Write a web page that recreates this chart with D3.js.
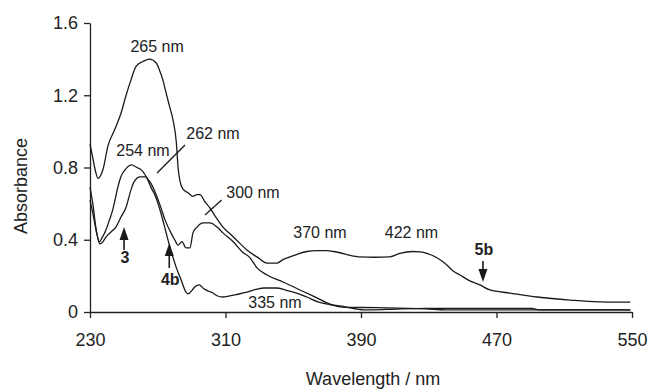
<!DOCTYPE html>
<html>
<head>
<meta charset="utf-8">
<script src="https://cdn.jsdelivr.net/npm/d3@7"></script>
<style>
  body { margin: 0; background: #fff; }
  svg { display: block; font-family: "Liberation Sans", Arial, sans-serif; }
  .axis path, .axis line { stroke: #222; stroke-width: 1.3; }
  .axis text { font-size: 18px; fill: #222; }
  .curve { fill: none; stroke: #1a1a1a; stroke-width: 1.3; stroke-linejoin: round; }
  .note { font-size: 16px; fill: #222; }
  .bold { font-size: 16px; font-weight: bold; fill: #222; }
</style>
</head>
<body>
<div id="chart"></div>
<script>
// spectrum of 5b (peaks 265, 370, 422 nm)
var wl5b = [230, 231.5, 233, 234.7, 236.5, 237.7, 240.6, 244.6, 248.3, 251, 254.2, 257.2, 261.3, 265.2, 269, 271, 273, 275, 277, 279, 281, 282, 283, 284.9, 287.9, 290.8, 293, 294.9, 297.9, 300.8, 304, 308.5, 313, 318.5, 323, 328.6, 334.5, 340.4, 344, 348.1, 353, 358.1, 364, 369.9, 374, 377.6, 383, 389.4, 398, 407.1, 413, 420.7, 425, 428.9, 434.8, 440.7, 444, 448.4, 454.3, 460.2, 466.1, 477.9, 494, 513.4, 535, 549];
var abs5b = [0.93, 0.86, 0.79, 0.74, 0.76, 0.79, 0.92, 1.01, 1.10, 1.19, 1.285, 1.36, 1.387, 1.40, 1.38, 1.34, 1.285, 1.21, 1.137, 1.064, 0.936, 0.80, 0.73, 0.68, 0.66, 0.64, 0.65, 0.65, 0.61, 0.576, 0.53, 0.47, 0.43, 0.38, 0.34, 0.305, 0.271, 0.271, 0.29, 0.305, 0.322, 0.335, 0.34, 0.34, 0.335, 0.328, 0.315, 0.305, 0.303, 0.305, 0.325, 0.335, 0.333, 0.325, 0.30, 0.26, 0.23, 0.205, 0.172, 0.15, 0.122, 0.105, 0.083, 0.066, 0.055, 0.055];

// spectrum of 4b (peaks 254, 335 nm)
var wl4b = [230, 231.8, 233.5, 235.5, 237.1, 239.4, 241.5, 243.4, 245, 246.4, 248.3, 250.7, 252.5, 254.4, 257.7, 260.3, 262.5, 264.2, 266, 268.2, 272.1, 274.9, 277.8, 280.8, 283.7, 286.7, 287.9, 290.2, 292, 294.5, 297, 300, 302.6, 305, 308.5, 312, 316, 322.7, 328, 333, 340, 346, 352, 358, 365, 372, 380, 400, 428, 440, 549];
var abs4b = [0.69, 0.59, 0.465, 0.388, 0.41, 0.454, 0.51, 0.565, 0.63, 0.69, 0.75, 0.787, 0.805, 0.814, 0.80, 0.787, 0.76, 0.73, 0.69, 0.65, 0.54, 0.44, 0.34, 0.25, 0.18, 0.11, 0.10, 0.12, 0.14, 0.15, 0.13, 0.115, 0.105, 0.09, 0.083, 0.088, 0.096, 0.11, 0.125, 0.133, 0.133, 0.12, 0.105, 0.083, 0.055, 0.04, 0.026, 0.024, 0.018, 0.012, 0.012];

// spectrum of 3 (peaks 262, 300 nm)
var wl3 = [230, 231.8, 234.1, 235.9, 237.7, 239.4, 242.4, 245.3, 248.3, 251.3, 254.2, 256, 259.5, 262.5, 265.4, 268.4, 271.3, 274.3, 277.8, 280, 282, 284.3, 286.7, 289, 290.8, 293.2, 296.7, 300.8, 305, 308.5, 314.4, 320.3, 324.5, 328.6, 334.5, 343.9, 354, 364, 371.7, 380, 392, 405, 428, 491, 495, 549];
var abs3 = [0.62, 0.54, 0.43, 0.377, 0.39, 0.415, 0.443, 0.47, 0.526, 0.58, 0.676, 0.72, 0.748, 0.748, 0.72, 0.665, 0.593, 0.51, 0.438, 0.40, 0.37, 0.39, 0.355, 0.355, 0.438, 0.47, 0.493, 0.493, 0.47, 0.438, 0.39, 0.33, 0.30, 0.244, 0.205, 0.166, 0.122, 0.078, 0.044, 0.03, 0.012, 0.014, 0.02, 0.02, 0.012, 0.012];

var xTicks = [230, 310, 390, 470, 550];
var yTicks = [0, 0.4, 0.8, 1.2, 1.6];

// peak labels: [text, wavelength, absorbance]
var peakLabels = [
  ["265 nm", 269.6, 1.44],
  ["254 nm", 261.3, 0.864],
  ["262 nm", 302.6, 0.958],
  ["300 nm", 326.2, 0.632],
  ["370 nm", 365.8, 0.41],
  ["422 nm", 419.8, 0.41],
  ["335 nm", 339.2, 0.022]
];
// leader lines [x1, y1, x2, y2] in data units
var leaders = [
  [269.6, 0.77, 286.1, 0.925],
  [297.9, 0.537, 307.7, 0.62]
];
// compound arrows: [label, wavelength, tail, tip, label baseline]
var arrows = [
  ["3", 250.1, 0.343, 0.47, 0.27],
  ["4b", 276.8, 0.244, 0.382, 0.15],
  ["5b", 462, 0.283, 0.166, 0.316]
];

var margin = { top: 23, right: 20, bottom: 78, left: 90 },
  width = 652 - margin.left - margin.right,
  height = 390 - margin.top - margin.bottom;

var svg = d3.select("#chart").append("svg")
  .attr("width", 652)
  .attr("height", 390);

var g = svg.append("g")
  .attr("transform", "translate(" + margin.left + "," + margin.top + ")");

var x = d3.scaleLinear().domain([230, 550]).range([0, width]);
var y = d3.scaleLinear().domain([0, 1.6]).range([height, 0]);

// axes
g.append("g")
  .attr("class", "axis")
  .attr("transform", "translate(0," + height + ")")
  .call(d3.axisBottom(x).tickValues(xTicks).tickSize(6).tickSizeOuter(0).tickPadding(15).tickFormat(d3.format("d")));

g.append("g")
  .attr("class", "axis")
  .call(d3.axisLeft(y).tickValues(yTicks).tickSize(6).tickSizeOuter(0).tickPadding(6)
    .tickFormat(function (d) { return d === 0 ? "0" : d.toFixed(1); }));

// axis titles
svg.append("text")
  .attr("x", 373).attr("y", 385)
  .attr("text-anchor", "middle")
  .style("font-size", "18px").style("fill", "#222")
  .text("Wavelength / nm");

svg.append("text")
  .attr("transform", "translate(27,186) rotate(-90)")
  .attr("text-anchor", "middle")
  .style("font-size", "18px").style("fill", "#222")
  .text("Absorbance");

// curves
var line = d3.line()
  .x(function (d) { return x(d[0]); })
  .y(function (d) { return y(d[1]); })
  .curve(d3.curveMonotoneX);

[[wl5b, abs5b], [wl4b, abs4b], [wl3, abs3]].forEach(function (s) {
  g.append("path")
    .attr("class", "curve")
    .attr("d", line(d3.zip(s[0], s[1])));
});

// peak labels
g.selectAll(".note")
  .data(peakLabels)
  .enter().append("text")
  .attr("class", "note")
  .attr("x", function (d) { return x(d[1]); })
  .attr("y", function (d) { return y(d[2]); })
  .attr("text-anchor", "middle")
  .text(function (d) { return d[0]; });

g.selectAll(".leader")
  .data(leaders)
  .enter().append("line")
  .attr("x1", function (d) { return x(d[0]); })
  .attr("y1", function (d) { return y(d[1]); })
  .attr("x2", function (d) { return x(d[2]); })
  .attr("y2", function (d) { return y(d[3]); })
  .attr("stroke", "#1a1a1a")
  .attr("stroke-width", 1.3);

// arrows with bold compound labels
arrows.forEach(function (a) {
  var ax = x(a[1]), y0 = y(a[2]), y1 = y(a[3]);
  var dir = y1 < y0 ? -1 : 1;
  g.append("line")
    .attr("x1", ax).attr("y1", y0)
    .attr("x2", ax).attr("y2", y1 - dir * 9)
    .attr("stroke", "#1a1a1a").attr("stroke-width", 1.6);
  g.append("path")
    .attr("d", "M" + ax + "," + y1 + "L" + (ax - 4.5) + "," + (y1 - dir * 13) + "L" + (ax + 4.5) + "," + (y1 - dir * 13) + "Z")
    .attr("fill", "#1a1a1a");
  g.append("text")
    .attr("class", "bold")
    .attr("x", ax + 1)
    .attr("y", y(a[4]))
    .attr("text-anchor", "middle")
    .text(a[0]);
});
</script>
</body>
</html>
